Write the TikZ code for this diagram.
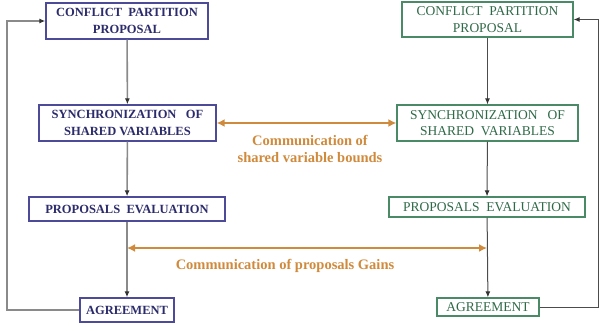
\documentclass[tikz,border=0pt]{standalone}
\usepackage{fontspec}
\setmainfont{Liberation Serif}
\usetikzlibrary{arrows.meta}
\definecolor{lblue}{HTML}{4E4A9A}
\definecolor{ltext}{HTML}{2C2C6C}
\definecolor{rgreen}{HTML}{4A8A66}
\definecolor{rtext}{HTML}{2F6A48}
\definecolor{orng}{HTML}{D08A3C}
\definecolor{lgray}{HTML}{8A8A8A}
\tikzset{
  lbox/.style={draw=lblue, line width=1.3pt, text=ltext, font=\fontsize{12.5}{16.5}\selectfont\bfseries, align=center, inner sep=0pt, fill=white},
  rbox/.style={draw=rgreen, line width=1.3pt, text=rtext, font=\fontsize{13.5}{16.5}\selectfont, align=center, inner sep=0pt, fill=white},
  lflow/.style={draw=lgray, line width=1.6pt, -{Latex[length=6pt,width=5pt,color=black!80]}},
  rflow/.style={draw=black!70, line width=1pt, -{Latex[length=6pt,width=5pt,color=black!80]}},
  comm/.style={draw=orng, line width=2.4pt, {Latex[length=8pt,width=8pt]}-{Latex[length=8pt,width=8pt]}},
  commtext/.style={text=orng, font=\fontsize{14.5}{17}\selectfont\bfseries, align=center}
}
\begin{document}
\begin{tikzpicture}[x=1pt,y=-1pt]
\useasboundingbox (0,0) rectangle (600,330);
% left column
\node[lbox, minimum width=162pt, minimum height=36pt] (l1) at (127,21) {CONFLICT\ \ PARTITION\\PROPOSAL};
\node[lbox, minimum width=177pt, minimum height=36pt] (l2) at (127.5,123) {SYNCHRONIZATION\ \ \ OF\\SHARED VARIABLES};
\node[lbox, minimum width=196pt, minimum height=24pt] (l3) at (127,209) {PROPOSALS\ \ EVALUATION};
\node[lbox, minimum width=94pt, minimum height=24pt] (l4) at (127,310) {AGREEMENT};
% right column
\node[rbox, minimum width=171pt, minimum height=35pt] (r1) at (487.5,19.5) {CONFLICT\ \ PARTITION\\PROPOSAL};
\node[rbox, minimum width=181pt, minimum height=36pt] (r2) at (487.5,123) {SYNCHRONIZATION\ \ \ OF\\SHARED\ \ VARIABLES};
\node[rbox, minimum width=196pt, minimum height=20pt] (r3) at (487,207) {PROPOSALS\ \ EVALUATION};
\node[rbox, minimum width=102pt, minimum height=18pt] (r4) at (488,307) {AGREEMENT};
% coordinates
\coordinate (lm) at (127,248);
\coordinate (rm) at (487,248);
\coordinate (lc1) at (7,310);
\coordinate (lc2) at (7,21);
\coordinate (rc1) at (598,307);
\coordinate (rc2) at (598,19.5);
% left flows
\draw[lflow] (l1) -- (l2);
\draw[lflow] (l2) -- (l3);
\draw[lflow] (l3) -- (l4);
\draw[lflow] (l4.west) -- (lc1) -- (lc2) -- (l1.west);
% right flows
\draw[rflow] (r1) -- (r2);
\draw[rflow] (r2) -- (r3);
\draw[rflow] (r3) -- (r4);
\draw[rflow] (r4.east) -- (rc1) -- (rc2) -- (r1.east);
% communications
\draw[comm] (l2.east) -- (r2.west);
\draw[comm] (lm) -- (rm);
\node[commtext] (t1) at (310,149) {Communication of\\shared variable bounds};
\node[commtext] (t2) at (285,266) {Communication of proposals Gains};
\end{tikzpicture}
\end{document}
